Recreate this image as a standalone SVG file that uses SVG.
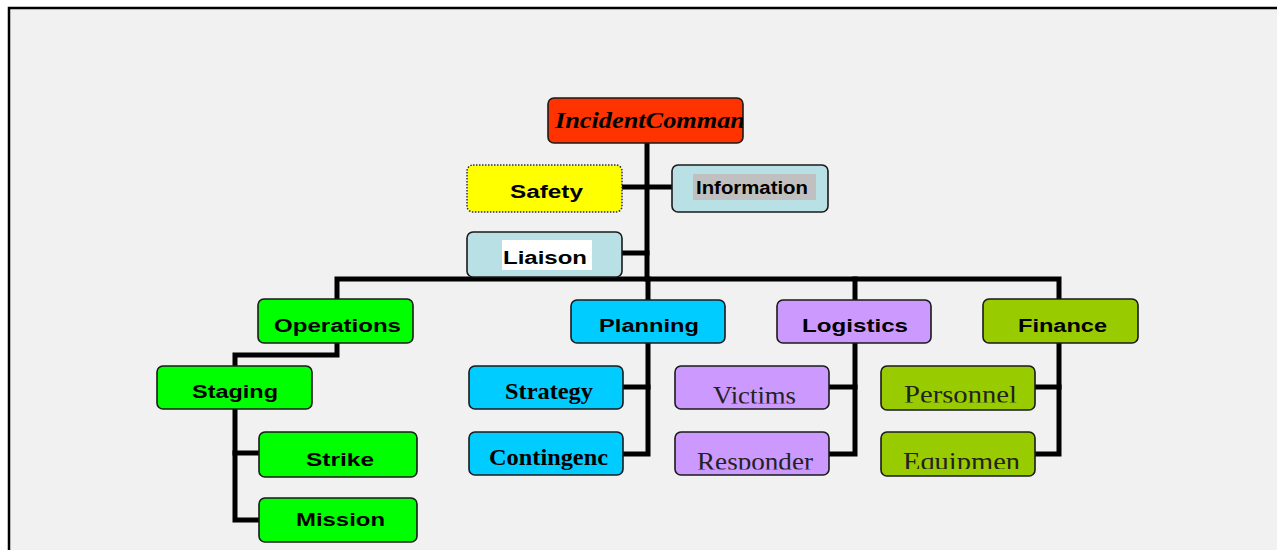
<svg xmlns="http://www.w3.org/2000/svg" width="1277" height="550" viewBox="0 0 1277 550">
<style>
.box{stroke:#1a1a1a;stroke-width:1.6}
.lab{font-family:"Liberation Sans",Arial,sans-serif;font-weight:bold;font-size:18px;fill:#000}
.ser{font-family:"Liberation Serif","Times New Roman",serif;font-size:26px;fill:#222}
.serb{font-family:"Liberation Serif","Times New Roman",serif;font-weight:bold;font-size:24px;fill:#000}
.conn{fill:none;stroke:#000;stroke-width:5;stroke-linejoin:miter;stroke-linecap:square}
</style>
<defs>
<clipPath id="cIC"><rect x="549" y="99" width="194" height="44"/></clipPath>
<clipPath id="cVic"><rect x="676" y="367" width="152" height="36.5"/></clipPath>
<clipPath id="cRes"><rect x="676" y="433" width="152" height="36.5"/></clipPath>
<clipPath id="cPer"><rect x="882" y="367" width="152" height="35.5"/></clipPath>
<clipPath id="cEqu"><rect x="882" y="433" width="152" height="36"/></clipPath>
<clipPath id="cStr"><rect x="470" y="367" width="152" height="41"/></clipPath>
<clipPath id="cCon"><rect x="470" y="433" width="152" height="41"/></clipPath>
</defs>
<rect x="0" y="0" width="1277" height="550" fill="#ffffff"/>
<rect x="9" y="8" width="1300" height="600" fill="#f1f1f1" stroke="#000" stroke-width="2.5"/>

<g id="connectors">
<path class="conn" d="M647,143 V279"/>
<path class="conn" d="M622,187 H672"/>
<path class="conn" d="M622,253 H647"/>
<path class="conn" d="M337,299 V279 H1059 V299"/>
<path class="conn" d="M648,279 V300"/>
<path class="conn" d="M855,279 V300"/>
<path class="conn" d="M337,343 V355 H235 V366"/>
<path class="conn" d="M235,409 V520 H259"/>
<path class="conn" d="M235,453 H259"/>
<path class="conn" d="M648,343 V454 H623"/>
<path class="conn" d="M623,387 H648"/>
<path class="conn" d="M855,343 V454 H829"/>
<path class="conn" d="M829,387 H855"/>
<path class="conn" d="M1059,343 V454 H1035"/>
<path class="conn" d="M1035,387 H1059"/>
</g>

<g id="incident-command">
<rect class="box" x="548" y="98" width="195" height="45" rx="6" fill="#ff3300"/>
<text clip-path="url(#cIC)" x="555" y="128" font-family="'Liberation Serif','Times New Roman',serif" font-weight="bold" font-style="italic" font-size="23" fill="#000" textLength="190" lengthAdjust="spacingAndGlyphs">IncidentComman</text>
</g>

<g id="safety">
<rect x="467" y="165" width="155" height="47" rx="6" fill="#ffff00" stroke="#333" stroke-width="1.5" stroke-dasharray="1.5 1.5"/>
<text class="lab" x="510" y="198" textLength="73" lengthAdjust="spacingAndGlyphs">Safety</text>
</g>

<g id="information">
<rect class="box" x="672" y="165" width="156" height="47" rx="6" fill="#b9e0e4"/>
<rect x="693" y="174" width="123" height="26" fill="#c0c0c0"/>
<text class="lab" x="696" y="194" font-size="17" textLength="112" lengthAdjust="spacingAndGlyphs">Information</text>
</g>

<g id="liaison">
<rect class="box" x="467" y="232" width="155" height="45" rx="6" fill="#b9e0e4"/>
<rect x="502" y="240" width="90" height="30" fill="#ffffff"/>
<text class="lab" x="503" y="264" font-size="19" textLength="84" lengthAdjust="spacingAndGlyphs">Liaison</text>
</g>

<g id="operations">
<rect class="box" x="258" y="299" width="155" height="44" rx="6" fill="#00ff00"/>
<text class="lab" x="274" y="332" textLength="127" lengthAdjust="spacingAndGlyphs">Operations</text>
</g>

<g id="staging">
<rect class="box" x="157" y="366" width="155" height="43" rx="6" fill="#00ff00"/>
<text class="lab" x="192" y="398" textLength="86" lengthAdjust="spacingAndGlyphs">Staging</text>
</g>

<g id="strike">
<rect class="box" x="259" y="432" width="158" height="45" rx="6" fill="#00ff00"/>
<text class="lab" x="306" y="466" textLength="68" lengthAdjust="spacingAndGlyphs">Strike</text>
</g>

<g id="mission">
<rect class="box" x="259" y="498" width="158" height="44" rx="6" fill="#00ff00"/>
<text class="lab" x="296" y="526" textLength="89" lengthAdjust="spacingAndGlyphs">Mission</text>
</g>

<g id="planning">
<rect class="box" x="571" y="300" width="154" height="43" rx="6" fill="#00ccff"/>
<text class="lab" x="599" y="332" textLength="100" lengthAdjust="spacingAndGlyphs">Planning</text>
</g>

<g id="strategy">
<rect class="box" x="469" y="366" width="154" height="43" rx="6" fill="#00ccff"/>
<text class="serb" clip-path="url(#cStr)" x="505" y="399" textLength="88" lengthAdjust="spacingAndGlyphs">Strategy</text>
</g>

<g id="contingency">
<rect class="box" x="469" y="432" width="154" height="43" rx="6" fill="#00ccff"/>
<text class="serb" clip-path="url(#cCon)" x="489" y="465" textLength="119" lengthAdjust="spacingAndGlyphs">Contingenc</text>
</g>

<g id="logistics">
<rect class="box" x="777" y="300" width="154" height="43" rx="6" fill="#cc99ff"/>
<text class="lab" x="802" y="332" textLength="106" lengthAdjust="spacingAndGlyphs">Logistics</text>
</g>

<g id="victims">
<rect class="box" x="675" y="366" width="154" height="43" rx="6" fill="#cc99ff"/>
<text class="ser" clip-path="url(#cVic)" x="713" y="404" textLength="83" lengthAdjust="spacingAndGlyphs">Victims</text>
</g>

<g id="responder">
<rect class="box" x="675" y="432" width="154" height="43" rx="6" fill="#cc99ff"/>
<text class="ser" clip-path="url(#cRes)" x="697" y="470" textLength="116" lengthAdjust="spacingAndGlyphs">Responder</text>
</g>

<g id="finance">
<rect class="box" x="983" y="299" width="155" height="44" rx="6" fill="#99cc00"/>
<text class="lab" x="1018" y="332" textLength="89" lengthAdjust="spacingAndGlyphs">Finance</text>
</g>

<g id="personnel">
<rect class="box" x="881" y="366" width="154" height="44" rx="6" fill="#99cc00"/>
<text class="ser" clip-path="url(#cPer)" x="904" y="403" textLength="113" lengthAdjust="spacingAndGlyphs">Personnel</text>
</g>

<g id="equipment">
<rect class="box" x="881" y="432" width="154" height="44" rx="6" fill="#99cc00"/>
<text class="ser" clip-path="url(#cEqu)" x="903" y="470" textLength="117" lengthAdjust="spacingAndGlyphs">Equipmen</text>
</g>
</svg>
